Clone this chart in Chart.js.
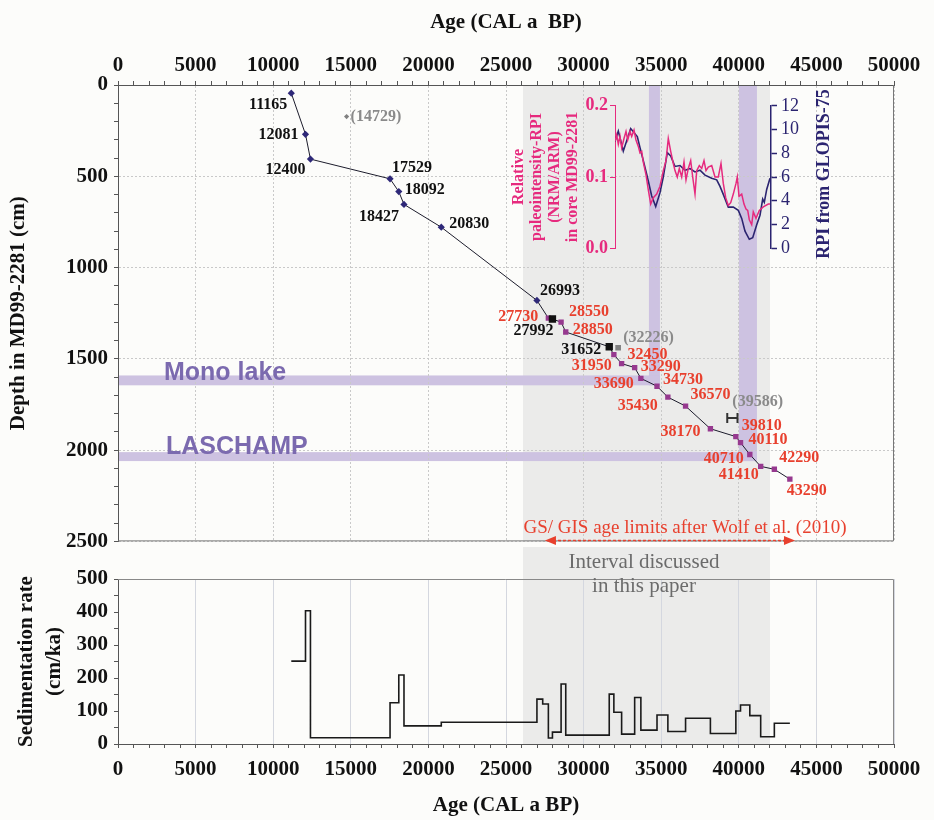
<!DOCTYPE html>
<html>
<head>
<meta charset="utf-8">
<script src="https://cdn.jsdelivr.net/npm/chart.js@4.4.1/dist/chart.umd.min.js"></script>
<style>
  html, body { margin: 0; padding: 0; background: #fcfcfa; }
  #wrap { position: relative; width: 934px; height: 820px; overflow: hidden; }
  .box { position: absolute; }
  #topBox { left: 0; top: 0; z-index: 2; }
  #botBox { left: 0; top: 547px; z-index: 1; }
  #insetBox { left: 575px; top: 91px; z-index: 3; }
</style>
</head>
<body>
<div id="wrap">
  <div class="box" id="botBox"><canvas id="botChart" width="934" height="273"></canvas></div>
  <div class="box" id="topBox"><canvas id="topChart" width="934" height="560"></canvas></div>
  <div class="box" id="insetBox"><canvas id="insetChart" width="236" height="172"></canvas></div>
</div>
<script>
// --- DATOS: modelo de edad (edad cal BP / profundidad cm) ---
const diamondAge = [11165, 12081, 12400, 17529, 18092, 18427, 20830, 26993];
const diamondDepth = [45, 270, 406, 514, 584, 654, 779, 1180];
const squareAge = [27730, 28550, 28850, 31950, 32450, 33290, 33690, 34730, 35430, 36570, 38170, 39810, 40110, 40710, 41410, 42290, 43290];
const squareDepth = [1277, 1299, 1353, 1477, 1526, 1548, 1607, 1650, 1710, 1759, 1883, 1926, 1959, 2024, 2089, 2105, 2159];
const blackAge = [27992, 31652];
const blackDepth = [1282, 1434];
const rejectedAge = [14729, 32226];
const rejectedDepth = [173, 1439];
const outlierAge = [39586];
const outlierDepth = [1824];
const outlierErr = [330];

// bandas
const grayBand = [26095, 42010];
const monoAge = [34210, 34920];
const monoDepth = [1591, 1645];
const laschampAge = [40010, 41170];
const laschampDepth = [2011, 2060];
const gsArrow = [27510, 43620];

// tasa de sedimentacion (cm/ka), escalones
const sedAge = [11165, 12081, 12400, 17529, 18092, 18427, 20830, 26993, 27365, 27730, 27992, 28550, 28850, 31652, 31950, 32450, 33290, 33690, 34730, 35430, 36570, 38170, 39810, 40110, 40710, 41410, 42290, 43290];
const sedRate = [251, 404, 19, 125, 209, 55, 66, 136, 121, 18, 36, 182, 27, 151, 96, 30, 141, 42, 88, 38, 78, 32, 100, 118, 86, 22, 63, 63];

// RPI MD99-2281 (NRM/ARM)
const rpiAge = [32023, 32133, 32236, 32345, 32455, 32603, 32732, 32842, 32990, 33099, 33247, 33376, 33524, 33634, 33743, 33847, 34021, 34169, 34324, 34491, 34710, 34923, 35136, 35309, 35457, 35612, 35780, 35889, 36037, 36166, 36321, 36469, 36598, 36746, 36901, 37030, 37178, 37288, 37455, 37610, 37758, 37887, 38036, 38254, 38466, 38679, 38853, 39001, 39156, 39323, 39478, 39646, 39820, 39903, 40013, 40187, 40335, 40464, 40574, 40677, 40831, 40934, 41108, 41321, 41579, 41900, 42010];
const rpiMD99 = [0.150, 0.159, 0.146, 0.157, 0.141, 0.154, 0.164, 0.152, 0.164, 0.157, 0.166, 0.152, 0.143, 0.134, 0.136, 0.121, 0.103, 0.082, 0.062, 0.071, 0.076, 0.087, 0.109, 0.123, 0.154, 0.136, 0.119, 0.109, 0.100, 0.112, 0.100, 0.121, 0.096, 0.112, 0.123, 0.100, 0.076, 0.109, 0.116, 0.112, 0.123, 0.109, 0.114, 0.116, 0.100, 0.100, 0.119, 0.091, 0.071, 0.060, 0.064, 0.076, 0.091, 0.100, 0.073, 0.076, 0.062, 0.055, 0.053, 0.040, 0.033, 0.051, 0.042, 0.053, 0.058, 0.062, 0.062];

// GLOPIS-75
const glopisAge = [32023, 32236, 32558, 33035, 33460, 33634, 33847, 34105, 34388, 34646, 34923, 35136, 35393, 35612, 35889, 36211, 36534, 36856, 37178, 37500, 37822, 38254, 38576, 38789, 39001, 39323, 39646, 39968, 40187, 40400, 40677, 40896, 41154, 41366, 41540, 41643, 41798, 42010];
const glopisRPI = [9.0, 9.87, 8.19, 10.08, 9.41, 8.46, 7.38, 6.02, 4.40, 3.51, 4.68, 6.02, 8.05, 7.78, 6.89, 6.97, 6.57, 6.71, 6.43, 6.57, 6.16, 5.89, 5.76, 5.21, 4.54, 3.46, 3.46, 3.19, 2.51, 1.44, 0.75, 0.89, 1.97, 2.78, 4.14, 3.87, 4.95, 5.89];

// posicion de etiquetas (dx, dy, alineacion)
const labelPos = {
  11165: [-4, 12, 'right'], 12081: [-7, 1, 'right'], 12400: [-5, 11, 'right'],
  17529: [2, -11, 'left'], 18092: [6, -2, 'left'], 18427: [-5, 12, 'right'], 20830: [8, -3, 'left'],
  26993: [3, -10, 'left'], 14729: [4, 0, 'left'],
  27730: [-10, -1, 'right'], 27992: [1, 12, 'right'], 28550: [8, -10, 'left'], 28850: [7, -2, 'left'],
  31652: [-8, 3, 'right'], 32226: [5, -10, 'left'], 32450: [6, -9, 'left'], 31950: [-2, 11, 'right'],
  33290: [6, -1, 'left'], 33690: [-7, 5, 'right'], 34730: [6, -6, 'left'], 35430: [-10, 9, 'right'],
  36570: [5, -11, 'left'], 38170: [-10, 3, 'right'], 39586: [0, -16, 'left'], 39810: [6, -11, 'left'],
  40110: [8, -3, 'left'], 40710: [-6, 4, 'right'], 41410: [-2, 8, 'right'], 42290: [5, -11, 'left'],
  43290: [-3, 12, 'left']
};

// --- ESTILOS ---
const SERIF = '"Liberation Serif", "Times New Roman", serif';
const SANS = '"Liberation Sans", Arial, sans-serif';
const C_DIAMOND = '#2e2878';
const C_SQUARE = '#96398f';
const C_RED = '#e8402e';
const C_PINK = '#e62a7e';
const C_NAVY = '#2b2470';
const C_GRAYBAND = '#ebebea';
const C_PURPLE = '#cdc2e1';
const GRID = '#c9c9c9';

const pts = (xs, ys) => xs.map((v, i) => ({ x: v, y: ys[i] }));

// linea del modelo de edad: todos los puntos ordenados
const modelPts = pts(diamondAge.concat(blackAge, squareAge), diamondDepth.concat(blackDepth, squareDepth))
  .sort((a, b) => a.x - b.x);

function drawLabels(ctx, x, y, ages, depths, color, paren) {
  ctx.fillStyle = color;
  ctx.textBaseline = 'middle';
  ages.forEach((a, i) => {
    const p = labelPos[a];
    if (!p) return;
    ctx.textAlign = p[2];
    const txt = paren ? `(${a})` : String(a);
    ctx.fillText(txt, x.getPixelForValue(a) + p[0], y.getPixelForValue(depths[i]) + p[1]);
  });
}

const topDecor = {
  id: 'topDecor',
  beforeDraw(chart) {
    const { ctx, chartArea: a, scales: { x, y } } = chart;
    ctx.save();
    ctx.fillStyle = C_GRAYBAND;
    const g0 = x.getPixelForValue(grayBand[0]), g1 = x.getPixelForValue(grayBand[1]);
    ctx.fillRect(g0, a.top, g1 - g0, a.bottom - a.top);
    ctx.fillStyle = C_PURPLE;
    [[monoAge, monoDepth], [laschampAge, laschampDepth]].forEach(([ag, dp]) => {
      const x0 = x.getPixelForValue(ag[0]), x1 = x.getPixelForValue(ag[1]);
      const y0 = y.getPixelForValue(dp[0]), y1 = y.getPixelForValue(dp[1]);
      ctx.fillRect(x0, a.top, x1 - x0, y1 - a.top);
      ctx.fillRect(a.left, y0, x1 - a.left, y1 - y0);
    });
    ctx.restore();
  },
  beforeDatasetsDraw(chart) {
    const { ctx, chartArea: a } = chart;
    ctx.save();
    ctx.strokeStyle = '#777';
    ctx.lineWidth = 1;
    ctx.beginPath();
    ctx.moveTo(a.right - 0.5, a.top);
    ctx.lineTo(a.right - 0.5, a.bottom - 0.5);
    ctx.lineTo(a.left, a.bottom - 0.5);
    ctx.stroke();
    ctx.restore();
  },
  afterDraw(chart) {
    const { ctx, chartArea: a, scales: { x, y } } = chart;
    ctx.save();

    // barra de error (39586)
    ctx.strokeStyle = '#333';
    ctx.lineWidth = 2;
    outlierAge.forEach((ag, i) => {
      const xa = x.getPixelForValue(ag - outlierErr[i]), xb = x.getPixelForValue(ag + outlierErr[i]);
      const yy = y.getPixelForValue(outlierDepth[i]);
      ctx.beginPath();
      ctx.moveTo(xa, yy - 5); ctx.lineTo(xa, yy + 5);
      ctx.moveTo(xb, yy - 5); ctx.lineTo(xb, yy + 5);
      ctx.moveTo(xa, yy); ctx.lineTo(xb, yy);
      ctx.stroke();
    });

    // etiquetas de edades
    ctx.font = 'bold 16px ' + SERIF;
    drawLabels(ctx, x, y, diamondAge, diamondDepth, '#111', false);
    drawLabels(ctx, x, y, blackAge, blackDepth, '#111', false);
    drawLabels(ctx, x, y, squareAge, squareDepth, C_RED, false);
    drawLabels(ctx, x, y, rejectedAge, rejectedDepth, '#8a8a8a', true);
    drawLabels(ctx, x, y, outlierAge, outlierDepth, '#8a8a8a', true);

    // eventos geomagneticos
    ctx.font = 'bold 25px ' + SANS;
    ctx.fillStyle = '#7b6aaf';
    ctx.textAlign = 'left';
    ctx.textBaseline = 'alphabetic';
    ctx.fillText('Mono lake', 164, 380);
    ctx.fillText('LASCHAMP', 166, 454);

    // GS/GIS
    ctx.font = '19px ' + SERIF;
    ctx.fillStyle = C_RED;
    ctx.textAlign = 'center';
    ctx.textBaseline = 'middle';
    ctx.fillText('GS/ GIS age limits after Wolf et al. (2010)', 685, 528);
    const ax0 = x.getPixelForValue(gsArrow[0]), ax1 = x.getPixelForValue(gsArrow[1]);
    const ay = a.bottom - 1;
    ctx.strokeStyle = C_RED;
    ctx.lineWidth = 1.5;
    ctx.setLineDash([3, 2]);
    ctx.beginPath(); ctx.moveTo(ax0 + 8, ay); ctx.lineTo(ax1 - 8, ay); ctx.stroke();
    ctx.setLineDash([]);
    ctx.beginPath();
    ctx.moveTo(ax0, ay); ctx.lineTo(ax0 + 11, ay - 4.5); ctx.lineTo(ax0 + 11, ay + 4.5); ctx.closePath();
    ctx.moveTo(ax1, ay); ctx.lineTo(ax1 - 11, ay - 4.5); ctx.lineTo(ax1 - 11, ay + 4.5); ctx.closePath();
    ctx.fill();

    // titulos del recuadro RPI
    ctx.font = 'bold 16px ' + SERIF;
    ctx.fillStyle = C_PINK;
    ['Relative', 'paleointensity-RPI', '(NRM/ARM)', 'in core MD99-2281'].forEach((t, i) => {
      ctx.save();
      ctx.translate(518.5 + 18.2 * i, 177);
      ctx.rotate(-Math.PI / 2);
      ctx.fillText(t, 0, 0);
      ctx.restore();
    });
    ctx.font = 'bold 18px ' + SERIF;
    ctx.fillStyle = C_NAVY;
    ctx.translate(824, 174);
    ctx.rotate(-Math.PI / 2);
    ctx.fillText('RPI from GLOPIS-75', 0, 0);
    ctx.restore();
  }
};

const axisFont = { family: SERIF, size: 21, weight: 'bold' };

new Chart(document.getElementById('topChart'), {
  type: 'line',
  data: {
    datasets: [
      { data: pts(diamondAge, diamondDepth), showLine: false, pointStyle: 'rectRot', pointRadius: 3.6, backgroundColor: C_DIAMOND, borderColor: C_DIAMOND, borderWidth: 0, order: 1 },
      { data: pts(squareAge, squareDepth), showLine: false, pointStyle: 'rect', pointRadius: 3.8, backgroundColor: C_SQUARE, borderColor: C_SQUARE, borderWidth: 0, order: 1 },
      { data: pts(blackAge, blackDepth), showLine: false, pointStyle: 'rect', pointRadius: 5.2, backgroundColor: '#111', borderColor: '#111', borderWidth: 0, order: 0 },
      { data: pts(rejectedAge, rejectedDepth), showLine: false, pointStyle: ['rectRot', 'rect'], pointRadius: [2.6, 4], backgroundColor: '#808080', borderColor: '#808080', borderWidth: 0, order: 0 },
      { data: modelPts, showLine: true, pointRadius: 0, borderColor: '#1c1c2c', borderWidth: 1, tension: 0, order: 5 }
    ]
  },
  options: {
    responsive: false,
    animation: false,
    layout: { padding: { left: 0, right: 40, top: 0, bottom: 13 }, autoPadding: false },
    plugins: { legend: { display: false }, tooltip: { enabled: false } },
    scales: {
      x: {
        type: 'linear', position: 'top', min: 0, max: 50000,
        title: { display: true, text: 'Age (CAL a  BP)', font: axisFont, color: '#111', padding: { top: 10, bottom: 0 } },
        ticks: { stepSize: 1000, autoSkip: false, maxRotation: 0, color: '#111', font: axisFont, padding: 3,
          callback: v => v % 5000 === 0 ? String(v) : '' },
        grid: { color: c => c.tick && c.tick.value % 5000 === 0 ? GRID : 'rgba(0,0,0,0)', tickColor: '#555', tickLength: 4 },
        border: { color: '#555', dash: [2, 2] },
        afterFit: s => { s.height = 85; }
      },
      y: {
        type: 'linear', reverse: true, min: 0, max: 2500,
        title: { display: true, text: 'Depth in MD99-2281 (cm)', font: axisFont, color: '#111', padding: { top: 6, bottom: 0 } },
        ticks: { stepSize: 100, autoSkip: false, color: '#111', font: axisFont, padding: 6,
          callback: v => v % 500 === 0 ? String(v) : '' },
        grid: { color: c => c.tick && c.tick.value % 500 === 0 ? GRID : 'rgba(0,0,0,0)', tickColor: '#555', tickLength: 4 },
        border: { color: '#555', dash: [2, 2] },
        afterFit: s => { s.width = 118; }
      }
    }
  },
  plugins: [topDecor]
});

// --- PANEL INFERIOR: tasa de sedimentacion ---
const botDecor = {
  id: 'botDecor',
  beforeDraw(chart) {
    const { ctx, chartArea: a, scales: { x } } = chart;
    ctx.save();
    ctx.fillStyle = C_GRAYBAND;
    const g0 = x.getPixelForValue(grayBand[0]), g1 = x.getPixelForValue(grayBand[1]);
    ctx.fillRect(g0, 0, g1 - g0, a.bottom);
    ctx.restore();
  },
  beforeDatasetsDraw(chart) {
    const { ctx, chartArea: a } = chart;
    ctx.save();
    ctx.strokeStyle = '#888';
    ctx.lineWidth = 1;
    ctx.beginPath();
    ctx.moveTo(a.left, a.top + 0.5);
    ctx.lineTo(a.right - 0.5, a.top + 0.5);
    ctx.lineTo(a.right - 0.5, a.bottom);
    ctx.stroke();
    ctx.restore();
  },
  afterDraw(chart) {
    const { ctx } = chart;
    ctx.save();
    ctx.font = '21px ' + SERIF;
    ctx.fillStyle = '#6b6b6b';
    ctx.textAlign = 'center';
    ctx.textBaseline = 'middle';
    ctx.fillText('Interval discussed', 644, 15);
    ctx.fillText('in this paper', 644, 39);
    ctx.restore();
  }
};

new Chart(document.getElementById('botChart'), {
  type: 'line',
  data: {
    datasets: [
      { data: pts(sedAge, sedRate), stepped: true, pointRadius: 0, borderColor: '#1a1a1a', borderWidth: 1.6 }
    ]
  },
  options: {
    responsive: false,
    animation: false,
    layout: { padding: { left: 0, right: 40, top: 32, bottom: 0 }, autoPadding: false },
    plugins: { legend: { display: false }, tooltip: { enabled: false } },
    scales: {
      x: {
        type: 'linear', position: 'bottom', min: 0, max: 50000,
        title: { display: true, text: 'Age (CAL a BP)', font: axisFont, color: '#111', padding: { top: 0, bottom: 2 } },
        ticks: { stepSize: 1000, autoSkip: false, maxRotation: 0, color: '#111', font: axisFont, padding: 9,
          callback: v => v % 5000 === 0 ? String(v) : '' },
        grid: { color: c => c.tick && c.tick.value % 5000 === 0 && c.tick.value > 0 ? '#d4d7df' : 'rgba(0,0,0,0)', tickColor: '#555', tickLength: 4 },
        border: { color: '#555' },
        afterFit: s => { s.height = 76; }
      },
      y: {
        type: 'linear', min: 0, max: 500,
        title: { display: true, text: ['Sedimentation rate', '(cm/ka)'], font: { family: SERIF, size: 21, weight: 'bold', lineHeight: 1.35 }, color: '#111', padding: { top: 12, bottom: 0 } },
        ticks: { stepSize: 50, autoSkip: false, color: '#111', font: axisFont, padding: 6,
          callback: v => v % 100 === 0 ? String(v) : '' },
        grid: { drawOnChartArea: false, tickColor: '#555', tickLength: 4 },
        border: { color: '#555' },
        afterFit: s => { s.width = 118; }
      }
    }
  },
  plugins: [botDecor]
});

// --- RECUADRO RPI ---
new Chart(document.getElementById('insetChart'), {
  type: 'line',
  data: {
    datasets: [
      { data: pts(rpiAge, rpiMD99), yAxisID: 'yL', pointRadius: 0, borderColor: C_PINK, borderWidth: 1.5, tension: 0 },
      { data: pts(glopisAge, glopisRPI), yAxisID: 'yR', pointRadius: 0, borderColor: C_NAVY, borderWidth: 1.6, tension: 0 }
    ]
  },
  options: {
    responsive: false,
    animation: false,
    layout: { padding: { left: 0, right: 0, top: 12, bottom: 12 }, autoPadding: false },
    plugins: { legend: { display: false }, tooltip: { enabled: false } },
    scales: {
      x: { type: 'linear', min: 32023, max: 42075, display: false },
      yL: {
        position: 'left', min: 0, max: 0.2,
        ticks: { stepSize: 0.1, autoSkip: false, color: C_PINK, font: { family: SERIF, size: 18, weight: 'bold' }, padding: 2,
          callback: v => v.toFixed(1) },
        grid: { drawOnChartArea: false, tickColor: C_PINK, tickLength: 5 },
        border: { color: C_PINK, width: 1 },
        afterFit: s => { s.width = 40; }
      },
      yR: {
        position: 'right', min: 0, max: 12,
        ticks: { stepSize: 2, autoSkip: false, color: C_NAVY, font: { family: SERIF, size: 18 }, padding: 4 },
        grid: { drawOnChartArea: false, tickColor: C_NAVY, tickLength: 6, tickWidth: 1.5 },
        border: { color: C_NAVY, width: 1.5 },
        afterFit: s => { s.width = 40; }
      }
    }
  }
});
</script>
</body>
</html>
